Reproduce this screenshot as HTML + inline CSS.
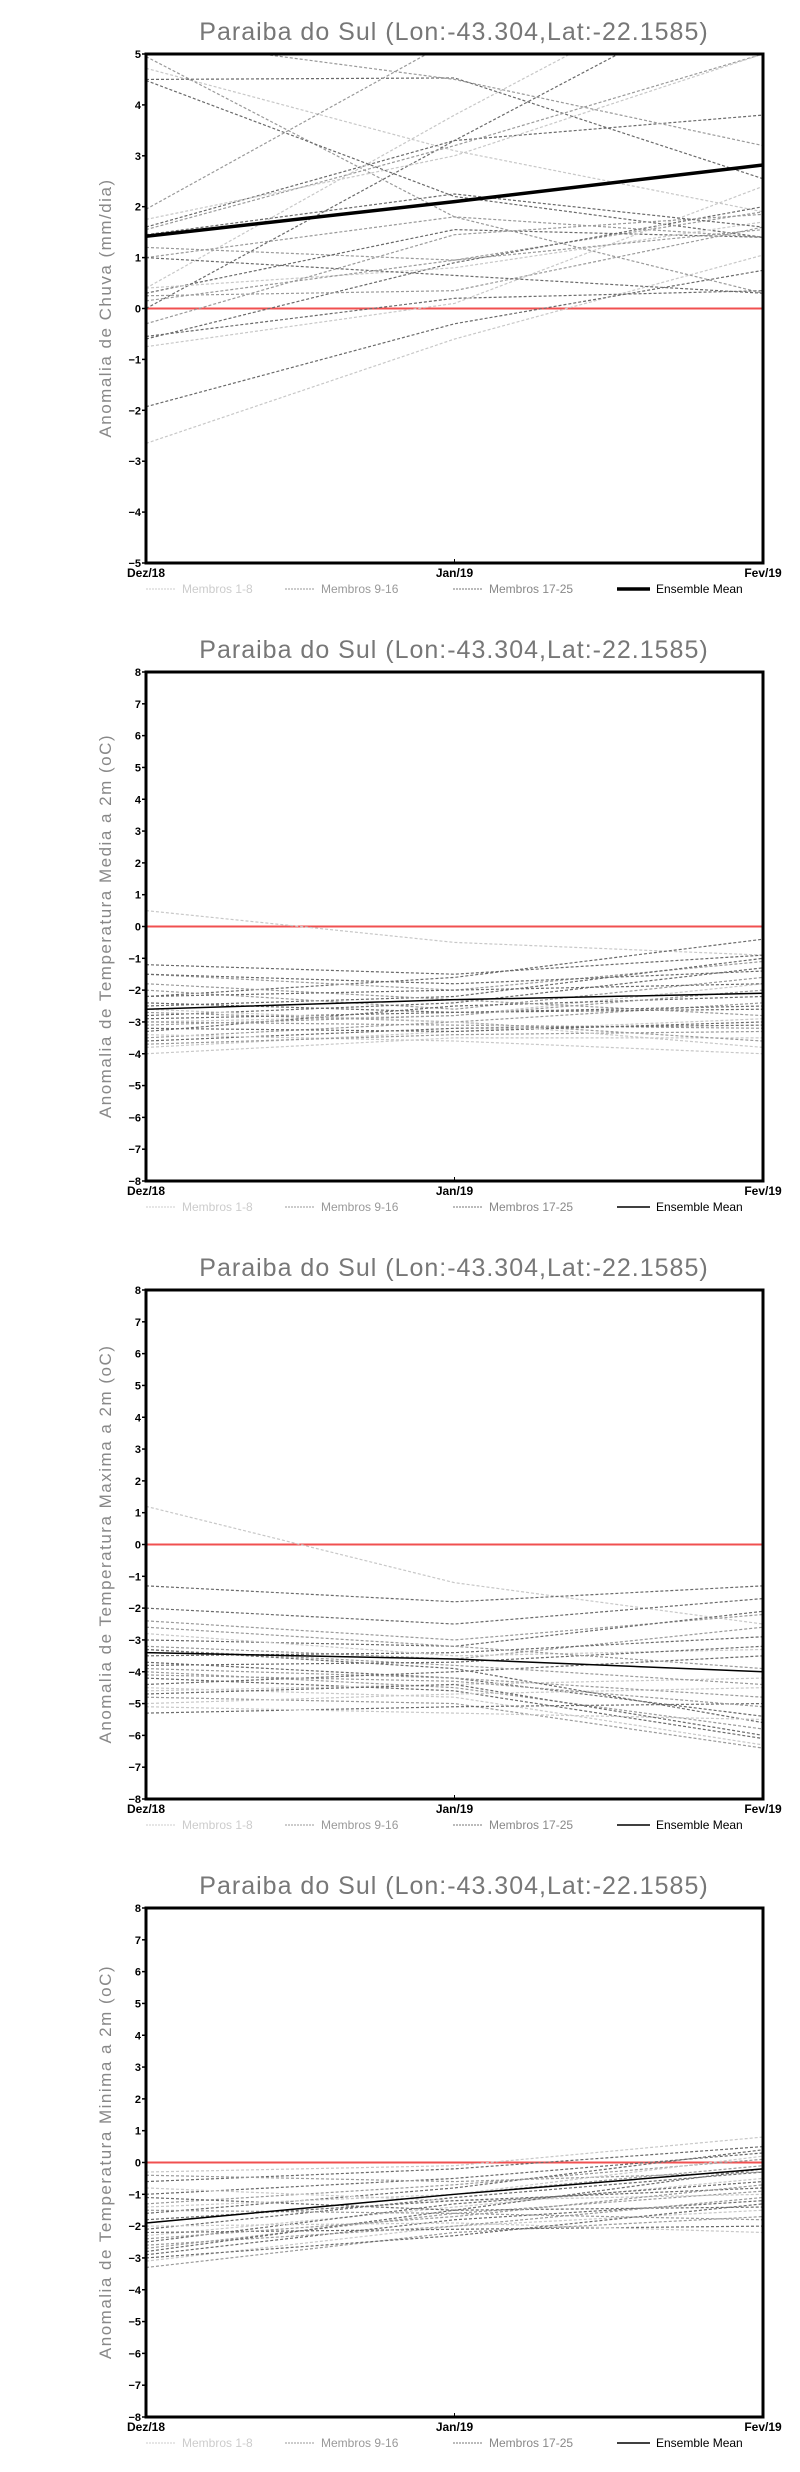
<!DOCTYPE html>
<html><head><meta charset="utf-8">
<style>
html,body{margin:0;padding:0;background:#fff;}
svg{display:block;}
.t{font-family:"Liberation Sans",sans-serif;font-size:25px;fill:#777;letter-spacing:1px;}
.yl{font-family:"Liberation Sans",sans-serif;font-size:17px;fill:#888;letter-spacing:1.5px;}
.tk{font-family:"Liberation Sans",sans-serif;font-size:11px;font-weight:bold;fill:#000;}
.xl{font-family:"Liberation Sans",sans-serif;font-size:12px;font-weight:bold;fill:#000;}
.lg{font-family:"Liberation Sans",sans-serif;font-size:12px;}
</style></head><body>
<svg id="s" width="800" height="2472" xmlns="http://www.w3.org/2000/svg">
<defs>
<clipPath id="c0"><rect x="146" y="54" width="617" height="509"/></clipPath>
<clipPath id="c1"><rect x="146" y="672" width="617" height="509"/></clipPath>
<clipPath id="c2"><rect x="146" y="1290" width="617" height="509"/></clipPath>
<clipPath id="c3"><rect x="146" y="1908" width="617" height="509"/></clipPath>
</defs>
<g id="g0" clip-path="url(#c0)"></g><g id="g1" clip-path="url(#c1)"></g><g id="g2" clip-path="url(#c2)"></g><g id="g3" clip-path="url(#c3)"></g>

<text class="t" x="454" y="40" text-anchor="middle">Paraiba do Sul (Lon:-43.304,Lat:-22.1585)</text>
<text class="yl" transform="translate(111,308) rotate(-90)" text-anchor="middle">Anomalia de Chuva (mm/dia)</text>
<text class="t" x="454" y="658" text-anchor="middle">Paraiba do Sul (Lon:-43.304,Lat:-22.1585)</text>
<text class="yl" transform="translate(111,926) rotate(-90)" text-anchor="middle">Anomalia de Temperatura Media a 2m (oC)</text>
<text class="t" x="454" y="1276" text-anchor="middle">Paraiba do Sul (Lon:-43.304,Lat:-22.1585)</text>
<text class="yl" transform="translate(111,1544) rotate(-90)" text-anchor="middle">Anomalia de Temperatura Maxima a 2m (oC)</text>
<text class="t" x="454" y="1894" text-anchor="middle">Paraiba do Sul (Lon:-43.304,Lat:-22.1585)</text>
<text class="yl" transform="translate(111,2162) rotate(-90)" text-anchor="middle">Anomalia de Temperatura Minima a 2m (oC)</text>
<g id="ax"></g>
</svg>
<script>
var NS="http://www.w3.org/2000/svg";
function el(p,n,a,t){var e=document.createElementNS(NS,n);for(var k in a)e.setAttribute(k,a[k]);if(t!=null)e.textContent=t;p.appendChild(e);return e;}
var L=146,R=763,H=509,xs=[146,454.5,763];
var cols={l:"#c8c8c8",m:"#9a9a9a",d:"#6a6a6a"};
var charts=[
{min:-5,max:5,mean:[1.42,2.1,2.82],mw:3.5,m:[
["l",-2.65,-0.6,1.05],["d",-1.93,-0.3,0.75],["l",4.72,3.1,1.9],["m",4.95,1.8,0.3],["d",4.48,2.2,1.4],
["d",4.5,4.53,2.55],["d",0.0,3.3,6.5],["d",1.6,3.3,3.8],["m",1.55,3.2,5.0],["l",0.4,3.8,7],
["m",1.0,1.8,1.4],["m",1.2,0.95,1.9],["d",0.3,1.55,1.4],["d",-0.6,0.9,2.0],["m",0.25,0.35,1.6],
["l",0.4,0.8,1.7],["d",-0.55,0.2,0.35],["l",-0.75,0.1,2.4],["m",-0.3,1.45,1.85],["d",1.45,2.25,1.6],
["m",1.95,5.3,7],["d",1.0,0.65,0.3],["m",0.15,0.95,1.55],["l",1.75,3.0,5.0],["m",5.3,4.5,3.2]]},
{min:-8,max:8,mean:[-2.6,-2.3,-2.1],mw:1.5,m:[
["l",0.5,-0.5,-0.9],["d",-1.2,-1.5,-0.9],["d",-2.2,-1.6,-0.4],["m",-1.5,-2.0,-1.1],["d",-2.5,-2.2,-1.0],
["m",-2.0,-2.6,-1.6],["d",-2.8,-2.4,-1.3],["l",-3.0,-2.8,-1.8],["d",-3.3,-2.5,-2.2],["m",-3.5,-3.0,-2.4],
["d",-2.4,-2.7,-2.6],["l",-3.8,-3.3,-2.9],["m",-3.0,-3.1,-3.2],["d",-3.6,-3.2,-3.1],["l",-4.0,-3.5,-3.5],
["m",-2.7,-3.0,-3.6],["d",-3.2,-3.3,-3.0],["l",-3.4,-3.6,-4.0],["m",-1.8,-2.3,-2.8],["d",-2.9,-2.7,-2.5],
["m",-3.7,-3.4,-3.3],["d",-2.2,-2.0,-1.8],["l",-2.6,-3.0,-3.8],["m",-3.1,-2.8,-2.0],["d",-1.5,-1.8,-1.4]]},
{min:-8,max:8,mean:[-3.4,-3.6,-4.0],mw:1.5,m:[
["l",1.2,-1.2,-2.5],["d",-1.3,-1.8,-1.3],["d",-2.0,-2.5,-1.7],["m",-2.4,-3.0,-2.2],["d",-3.0,-3.2,-2.1],
["m",-3.2,-3.6,-2.6],["d",-3.5,-3.4,-2.9],["l",-2.8,-3.5,-3.3],["d",-3.7,-4.2,-5.4],["m",-4.0,-4.5,-5.8],
["d",-4.2,-4.6,-6.1],["l",-4.5,-4.8,-6.3],["m",-4.8,-5.0,-6.4],["d",-5.3,-5.1,-5.0],["l",-5.0,-4.7,-4.5],
["m",-3.9,-4.2,-4.8],["d",-4.4,-4.0,-3.5],["l",-4.6,-4.4,-4.2],["m",-3.3,-3.8,-4.4],["d",-3.8,-3.7,-3.2],
["m",-4.1,-4.3,-5.1],["d",-3.3,-3.9,-5.6],["l",-5.1,-5.3,-5.5],["m",-2.6,-3.2,-3.9],["d",-4.7,-4.4,-6.0]]},
{min:-8,max:8,mean:[-1.9,-1.0,-0.2],mw:1.5,m:[
["l",-0.3,-0.1,0.8],["d",-0.6,-0.2,0.5],["d",-1.0,-0.5,0.3],["m",-1.3,-0.7,0.1],["d",-1.6,-0.8,0.4],
["m",-1.9,-1.0,-0.1],["d",-2.1,-1.1,-0.3],["l",-2.3,-1.4,-0.5],["d",-2.5,-1.3,-0.6],["m",-2.7,-1.6,-0.9],
["d",-2.9,-1.8,-1.2],["l",-3.1,-2.0,-1.5],["m",-3.3,-2.2,-1.7],["d",-2.2,-2.1,-2.0],["l",-2.0,-1.9,-2.2],
["m",-1.5,-1.6,-1.8],["d",-1.1,-1.5,-1.4],["l",-0.8,-1.2,-1.0],["m",-2.6,-2.0,-1.1],["d",-1.8,-1.2,-0.8],
["m",-0.4,-0.6,-0.3],["d",-2.8,-1.5,-0.2],["l",-1.4,-1.0,0.2],["m",-2.4,-1.7,-0.7],["d",-3.0,-2.3,-1.3]]}
];
var svg=document.getElementById("s"),ax=document.getElementById("ax");
charts.forEach(function(c,i){
 var T=54+618*i,B=T+H,g=document.getElementById("g"+i);
 function y(v){return T+(c.max-v)/(c.max-c.min)*H;}
 el(g,"line",{x1:L,x2:R,y1:y(0),y2:y(0),stroke:"#f05050","stroke-width":2});
 c.m.forEach(function(m){el(g,"polyline",{points:xs.map(function(x,j){return x+","+y(m[j+1]);}).join(" "),fill:"none",stroke:cols[m[0]],"stroke-width":1.2,"stroke-dasharray":"3,2"});});
 el(g,"polyline",{points:xs.map(function(x,j){return x+","+y(c.mean[j]);}).join(" "),fill:"none",stroke:"#000","stroke-width":c.mw});
 el(ax,"rect",{x:L,y:T,width:R-L,height:H,fill:"none",stroke:"#000","stroke-width":3});
 for(var v=c.min;v<=c.max;v++){var yy=y(v);el(ax,"line",{x1:L-4,x2:L,y1:yy,y2:yy,stroke:"#000","stroke-width":1.5});
  el(ax,"text",{"class":"tk",x:L-5,y:yy+4,"text-anchor":"end"},String(v).replace("-","\u2212"));}
 [["Dez/18",L],["Jan/19",454.5],["Fev/19",R]].forEach(function(a){el(ax,"line",{x1:a[1],x2:a[1],y1:B,y2:B-4,stroke:"#000"});el(ax,"text",{"class":"xl",x:a[1],y:B+14,"text-anchor":"middle"},a[0]);});
 var ly=B+30;
 el(ax,"line",{x1:146,x2:176,y1:ly-4,y2:ly-4,stroke:"#ccc","stroke-dasharray":"2,1"});
 el(ax,"text",{"class":"lg",x:182,y:ly,fill:"#ccc"},"Membros 1-8");
 el(ax,"line",{x1:285,x2:315,y1:ly-4,y2:ly-4,stroke:"#999","stroke-dasharray":"2,1"});
 el(ax,"text",{"class":"lg",x:321,y:ly,fill:"#999"},"Membros 9-16");
 el(ax,"line",{x1:453,x2:483,y1:ly-4,y2:ly-4,stroke:"#777","stroke-dasharray":"2,1"});
 el(ax,"text",{"class":"lg",x:489,y:ly,fill:"#888"},"Membros 17-25");
 el(ax,"line",{x1:617,x2:650,y1:ly-4,y2:ly-4,stroke:"#000","stroke-width":c.mw});
 el(ax,"text",{"class":"lg",x:656,y:ly,fill:"#000"},"Ensemble Mean");
});
</script>
</body></html>
